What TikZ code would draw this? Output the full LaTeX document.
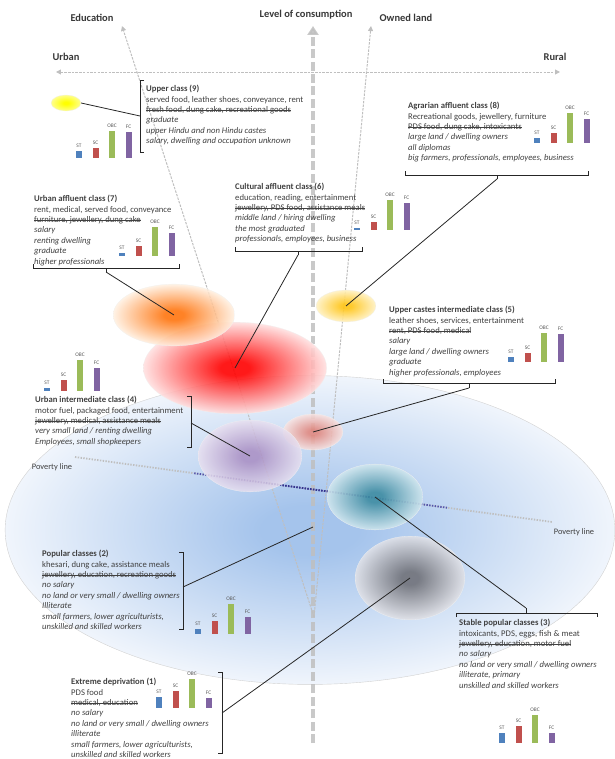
\documentclass[tikz,border=0pt]{standalone}
\usepackage{fontspec}
\setmainfont{Carlito}
\usepackage{tikz}
\usetikzlibrary{arrows.meta,shapes.geometric,calc}

\definecolor{stcol}{RGB}{79,129,189}
\definecolor{sccol}{RGB}{192,80,77}
\definecolor{obccol}{RGB}{155,187,89}
\definecolor{fccol}{RGB}{128,100,162}
\definecolor{planein}{RGB}{165,196,236}
\definecolor{planeout}{RGB}{240,245,252}
\definecolor{tealin}{RGB}{62,140,162}
\definecolor{tealout}{RGB}{208,230,238}
\definecolor{greyin}{RGB}{108,108,114}
\definecolor{greyout}{RGB}{226,226,231}
\definecolor{pinkin}{RGB}{226,132,122}
\definecolor{pinkout}{RGB}{248,226,224}
\definecolor{goldin}{RGB}{255,196,20}
\definecolor{goldout}{RGB}{255,241,195}
\definecolor{lilacin}{RGB}{170,142,195}
\definecolor{lilacout}{RGB}{232,224,240}

\makeatletter
\pgfdeclareradialshading[tikz@radial@inner,tikz@radial@outer]{blob}{\pgfpoint{0bp}{0bp}}{color(0bp)=(tikz@radial@inner); color(4bp)=(tikz@radial@inner); color(25bp)=(tikz@radial@outer); color(50bp)=(tikz@radial@outer)}
\makeatother

% struck-out goods
\newcommand{\strk}[1]{\setbox0\hbox{#1}\rlap{\rule[0.27em]{\wd0}{0.55pt}}\box0}

% four caste bars: x, base y, heights of ST SC OBC FC
\newcommand{\castebars}[7]{%
  \foreach \h/\c/\l [count=\i from 0] in {#3/stcol/ST,#4/sccol/SC,#5/obccol/OBC,#6/fccol/FC}{
    \fill[\c] ({#1+16.5*\i},#2) rectangle ++(6,-\h);
    \node (#7\l) at ({#1+16.5*\i+3},{#2-\h-5.5}) [barlbl] {\l};
  }}

\begin{document}
\begin{tikzpicture}[x=1bp,y=-1bp,
  classtxt/.style={anchor=north west,align=left,inner sep=0pt,font=\fontsize{8.7}{10.45}\selectfont,text=black!75},
  axlbl/.style={font=\fontsize{10.5}{12}\selectfont\bfseries,text=black!78},
  barlbl/.style={font=\fontsize{5.4}{6}\selectfont,text=black!65,inner sep=0pt},
  brk/.style={line width=0.8pt,black!85},
  conn/.style={line width=0.8pt,black!85},
  blob/.style 2 args={ellipse,inner sep=0pt,shade,inner color=#1,outer color=#2,shading=blob,draw=gray!12,line width=0.3pt},
  thinaxis/.style={black!25,line width=1pt,dash pattern=on 2.5pt off 1.2pt,-{Triangle[width=5pt,length=5pt]}},
]
\useasboundingbox (0,0) rectangle (615,759);

% the plane of the classes
\node (plane) at (310,530) [ellipse,minimum width=612,minimum height=310,inner sep=0pt,shade,inner color=planein,outer color=planeout,shading=blob,draw=gray!35,line width=0.4pt] {};

% axes
\node (edu) at (92,18) [axlbl] {Education};
\node (loc) at (306,15) [axlbl] {Level of consumption};
\node (own) at (406,18) [axlbl] {Owned land};
\node (urban) at (66,57) [axlbl] {Urban};
\node (rural) at (555,57) [axlbl] {Rural};
\coordinate (ul) at (56,72);
\coordinate (rl) at (560,72);
\coordinate (edutop) at (122,26);
\coordinate (owntop) at (371,26);
\coordinate (meet) at (314,617);
\coordinate (loctop) at (313,26);
\coordinate (locbot) at (313,743);
\draw [thinaxis,{Triangle[width=5pt,length=5pt]}-{Triangle[width=5pt,length=5pt]}] (ul) -- (rl);
\draw [thinaxis] (meet) -- (edutop);
\draw [thinaxis] (meet) -- (owntop);
\draw [black!25,opacity=0.85,line width=4pt,dash pattern=on 9pt off 3.5pt,-{Triangle[width=11pt,length=9pt]}] (locbot) -- (loctop);

% poverty line
\node (pvl) at (52,467) [font=\fontsize{8.4}{9}\selectfont,text=black!75] {Poverty line};
\node (pvr) at (574,532) [font=\fontsize{8.4}{9}\selectfont,text=black!75] {Poverty line};
\coordinate (pv1) at (75,457);
\coordinate (pv2) at (552,522);
\draw [gray!50,line width=1.8pt,dash pattern=on 1.4pt off 1.4pt] (pv1) -- (pv2);
\draw [blue!35!gray,line width=1.8pt,dash pattern=on 1.4pt off 1.4pt] ($(pv1)!0.25!(pv2)$) -- ($(pv1)!0.78!(pv2)$);
\draw [blue!45!black!80,line width=1.8pt,dash pattern=on 1.4pt off 1.4pt] ($(pv1)!0.4!(pv2)$) -- ($(pv1)!0.62!(pv2)$);

% class clouds
\node (c6) at (235,368) [blob={red}{red!12},minimum width=184,minimum height=92,opacity=0.9] {};
\node (c7) at (174,315) [blob={orange!85!red}{orange!12},minimum width=122,minimum height=62,opacity=0.85] {};
\node (c9) at (66,103) [blob={yellow}{yellow!45},minimum width=30,minimum height=16] {};
\node (c8) at (346,306) [blob={goldin}{goldout},minimum width=60,minimum height=32,opacity=0.9] {};
\node (c5) at (313,432) [blob={pinkin}{pinkout},minimum width=60,minimum height=36,opacity=0.85] {};
\node (c4) at (250,456) [blob={lilacin}{lilacout},minimum width=104,minimum height=72,opacity=0.85] {};
\node (c3) at (375,497) [blob={tealin}{tealout},minimum width=96,minimum height=66,opacity=0.9] {};
\node (c1) at (410,578) [blob={greyin}{greyout},minimum width=110,minimum height=84,opacity=0.85] {};
\coordinate (c2) at (313,527);

% Upper class (9)
\node (t9) at (146,85) [classtxt] {\textbf{Upper class (9)}\\
served food, leather shoes, conveyance, rent\\
\strk{fresh food, dung cake, recreational goods}\\
\textit{graduate}\\
\textit{upper Hindu and non Hindu castes}\\
\textit{salary, dwelling and occupation unknown}};
\draw [brk] (144,80) -- (140,80) -- (140,152) -- (144,152);
\coordinate (b9) at (140,116);
\draw [conn] (c9.east) -- (b9);
\castebars{76}{158}{7}{10}{27}{26}{k9}

% Agrarian affluent class (8)
\node (t8) at (408,102) [classtxt] {\textbf{Agrarian affluent class (8)}\\
Recreational goods, jewellery, furniture\\
\strk{PDS food, dung cake, intoxicants}\\
\textit{large land / dwelling owners}\\
\textit{all diplomas}\\
\textit{big farmers, professionals, employees, business}};
\draw [brk] (405,171) -- (405,175) -- (588,175) -- (588,171);
\draw [brk] (497,175) -- (497,179);
\coordinate (b8) at (497,179);
\draw [conn] (b8) -- (c8.center);
\castebars{534}{143}{5}{10}{30}{24}{k8}

% Urban affluent class (7)
\node (t7) at (34,195) [classtxt] {\textbf{Urban affluent class (7)}\\
rent, medical, served food, conveyance\\
\strk{furniture, jewellery, dung cake}\\
\textit{salary}\\
\textit{renting dwelling}\\
\textit{graduate}\\
\textit{higher professionals}};
\draw [brk] (33,264) -- (33,268) -- (179,268) -- (179,264);
\draw [brk] (106,268) -- (106,272);
\coordinate (b7) at (106,272);
\draw [conn] (b7) -- (c7.center);
\castebars{119}{256}{3}{10}{29}{23}{k7}

% Cultural affluent class (6)
\node (t6) at (235,183) [classtxt] {\textbf{Cultural affluent class (6)}\\
education, reading, entertainment\\
\strk{jewellery, PDS food, assistance meals}\\
\textit{middle land / hiring dwelling}\\
\textit{the most graduated}\\
\textit{professionals, employees, business}};
\draw [brk] (235,247) -- (235,251) -- (362,251) -- (362,247);
\draw [brk] (298,251) -- (298,255);
\coordinate (b6) at (298,255);
\draw [conn] (b6) -- (c6.center);
\castebars{354}{230}{2}{8}{30}{27}{k6}

% Upper castes intermediate class (5)
\node (t5) at (389,306) [classtxt] {\textbf{Upper castes intermediate class (5)}\\
leather shoes, services, entertainment\\
\strk{rent, PDS food, medical}\\
\textit{salary}\\
\textit{large land / dwelling owners}\\
\textit{graduate}\\
\textit{higher professionals, employees}};
\draw [brk] (383,379) -- (383,383) -- (555,383) -- (555,379);
\draw [brk] (469,383) -- (469,388);
\coordinate (b5) at (469,388);
\draw [conn] (b5) -- (c5.center);
\castebars{508}{362}{5}{9}{29}{28}{k5}

% Urban intermediate class (4)
\node (t4) at (35,396) [classtxt] {\textbf{Urban intermediate class (4)}\\
motor fuel, packaged food, entertainment\\
\strk{jewellery, medical, assistance meals}\\
\textit{very small land / renting dwelling}\\
\textit{Employees, small shopkeepers}};
\draw [brk] (187,396) -- (191,396) -- (191,447) -- (187,447);
\coordinate (b4) at (191,423);
\draw [conn] (b4) -- (c4.center);
\castebars{44}{391}{3}{11}{31}{23}{k4}

% Popular classes (2)
\node (t2) at (42,550) [classtxt] {\textbf{Popular classes (2)}\\
khesari, dung cake, assistance meals\\
\strk{jewellery, education, recreation goods}\\
\textit{no salary}\\
\textit{no land or very small / dwelling owners}\\
\textit{Illiterate}\\
\textit{small farmers, lower agriculturists,}\\
\textit{unskilled and skilled workers}};
\draw [brk] (179,552) -- (183,552) -- (183,629) -- (179,629);
\coordinate (b2) at (183,587);
\draw [conn] (b2) -- (c2);
\castebars{195}{634}{5}{13}{30}{17}{k2}

% Stable popular classes (3)
\node (t3) at (459,619) [classtxt] {\textbf{Stable popular classes (3)}\\
intoxicants, PDS, eggs, fish \& meat\\
\strk{jewellery, education, motor fuel}\\
\textit{no salary}\\
\textit{no land or very small / dwelling owners}\\
\textit{illiterate, primary}\\
\textit{unskilled and skilled workers}};
\draw [brk] (456,617) -- (456,613) -- (597,613) -- (597,617);
\draw [brk] (526,613) -- (526,608);
\coordinate (b3) at (526,608);
\draw [conn] (b3) -- (c3.center);
\castebars{499}{743}{10}{17}{28}{10}{k3}

% Extreme deprivation (1)
\node (t1) at (71,678) [classtxt] {\textbf{Extreme deprivation (1)}\\
PDS food\\
\strk{medical, education}\\
\textit{no salary}\\
\textit{no land or very small / dwelling owners}\\
\textit{illiterate}\\
\textit{small farmers, lower agriculturists,}\\
\textit{unskilled and skilled workers}};
\draw [brk] (218,672) -- (222,672) -- (222,753) -- (218,753);
\coordinate (b1) at (222,713);
\draw [conn] (b1) -- (c1.center);
\castebars{156}{708}{11}{17}{29}{10}{k1}
\end{tikzpicture}
\end{document}
